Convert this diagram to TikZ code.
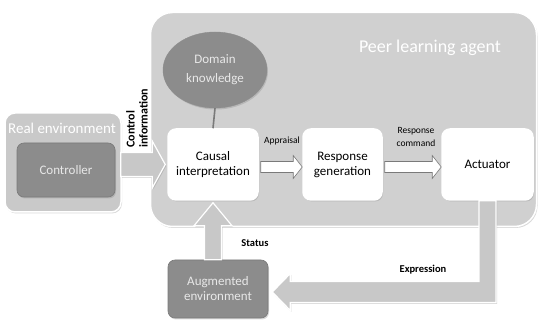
\documentclass[tikz,border=0pt]{standalone}
\usepackage{fontspec}
\setmainfont{Carlito}
\usetikzlibrary{shapes.geometric,shadows,calc}
\definecolor{agentgray}{HTML}{D0D0D0}
\definecolor{envgray}{HTML}{C9C9C9}
\definecolor{darkbox}{HTML}{8C8C8C}
\definecolor{arrowgray}{HTML}{C8C8C8}
\definecolor{lighttext}{HTML}{E8E8E8}
\definecolor{edgegray}{HTML}{7A7A7A}
\begin{document}
\begin{tikzpicture}[x=1pt,y=-1pt,
  softshadow/.style={drop shadow={shadow xshift=1pt,shadow yshift=-1.5pt,opacity=.3}},
  panel/.style={rounded corners=#1, draw=white, line width=1.5pt, softshadow, inner sep=0pt},
  whitebox/.style={panel=8pt, fill=white, minimum height=71pt, align=center,
    font=\fontsize{13}{15}\selectfont},
  darkbox/.style={panel=7pt, fill=darkbox, draw=edgegray, line width=0.6pt, text=lighttext,
    align=center, font=\fontsize{13}{15}\selectfont},
  blockarrow/.style={fill=arrowgray, draw=white, line width=1.2pt, softshadow},
  smallarrow/.style={fill=white, draw=edgegray, line width=0.6pt},
  lbl/.style={font=\bfseries\fontsize{10.5}{13}\selectfont, inner sep=0pt},
  smalllbl/.style={font=\fontsize{9.5}{13}\selectfont, inner sep=0pt, align=center},
  title/.style={text=white, inner sep=0pt}
]
\useasboundingbox (0,0) rectangle (539,320);

% containers
\node[panel=22pt, fill=agentgray, minimum width=386pt, minimum height=214pt] (agent) at (343.5,119.5) {};
\node[title, font=\fontsize{18}{20}\selectfont] (agenttitle) at (430,48) {Peer learning agent};

\node[panel=10pt, fill=envgray, minimum width=116pt, minimum height=99pt] (real) at (63,162.5) {};
\node[title, font=\fontsize{15}{17}\selectfont] (realtitle) at (62,128) {Real environment};

% boxes
\node[darkbox, minimum width=98pt, minimum height=54pt] (controller) at (66,170) {Controller};
\node[ellipse, fill=darkbox, draw=darkbox, text=lighttext, align=center, inner sep=0pt,
  minimum width=104pt, minimum height=76pt, font=\fontsize{13}{19}\selectfont,
  softshadow] (domain) at (215,70) {Domain\\knowledge};
\node[whitebox, minimum width=90pt] (causal) at (213,164.5) {Causal\\interpretation};
\node[whitebox, minimum width=79pt] (response) at (342.5,164.5) {Response\\generation};
\node[whitebox, minimum width=91pt] (actuator) at (487.5,164.5) {Actuator};
\node[darkbox, minimum width=100pt, minimum height=58pt] (augmented) at (218,289) {Augmented\\environment};

% domain link
\draw[edgegray, line width=1.6pt] (domain.south) -- (causal.north);

% control information arrow
\path[blockarrow] let \p1=(real.east), \p2=(causal.west) in
  (\x1-1pt,\y2+12pt) -- (\x2-15pt,\y2+12pt) -- (\x2-15pt,\y2+23.5pt) -- (\x2-2pt,\y2)
  -- (\x2-15pt,\y2-23.5pt) -- (\x2-15pt,\y2-12pt) -- (\x1-1pt,\y2-12pt) -- cycle;
\node[rotate=90, anchor=west, align=left, inner sep=0pt,
  font=\bfseries\fontsize{12}{13}\selectfont] (ctrllbl) at (137,148) {Control\\information};

% appraisal arrow
\path[smallarrow] let \p1=(causal.east), \p2=(response.west) in
  (\x1+2pt,\y1+3pt) -- (\x2-9pt,\y1+3pt) -- (\x2-9pt,\y1+9pt) -- (\x2,\y1-2.5pt)
  -- (\x2-9pt,\y1-14pt) -- (\x2-9pt,\y1-8pt) -- (\x1+2pt,\y1-8pt) -- cycle;
\node[smalllbl] (appraisal) at (282,141) {Appraisal};

% response command arrow
\path[smallarrow] let \p1=(response.east), \p2=(actuator.west) in
  (\x1+2pt,\y1+3pt) -- (\x2-9pt,\y1+3pt) -- (\x2-9pt,\y1+9pt) -- (\x2,\y1-2.5pt)
  -- (\x2-9pt,\y1-14pt) -- (\x2-9pt,\y1-8pt) -- (\x1+2pt,\y1-8pt) -- cycle;
\node[smalllbl] (respcmd) at (416,137) {Response\\command};

% status arrow
\path[blockarrow] let \p1=(causal.south), \p2=(augmented.north) in
  (\x1-8.5pt,\y2) -- (\x1-8.5pt,\y1-25pt) -- (\x1-19pt,\y1-25pt) -- (\x1,\y1-2pt)
  -- (\x1+19pt,\y1-25pt) -- (\x1+8.5pt,\y1-25pt) -- (\x1+8.5pt,\y2) -- cycle;
\node[lbl] (status) at (255,243) {Status};

% expression arrow
\path[blockarrow] let \p1=(actuator.south), \p2=(augmented.east) in
  (\x1-8.5pt,\y1) -- (\x1+8.5pt,\y1) -- (\x1+8.5pt,\y2-13.5pt) -- (\x2+22pt,\y2-13.5pt)
  -- (\x2+22pt,\y2-21.5pt) -- (\x2+4pt,\y2-3pt) -- (\x2+22pt,\y2+15.5pt)
  -- (\x2+22pt,\y2+7.5pt) -- (\x1-8.5pt,\y2+7.5pt) -- cycle;
\node[lbl] (expression) at (423,270) {Expression};
\end{tikzpicture}
\end{document}
